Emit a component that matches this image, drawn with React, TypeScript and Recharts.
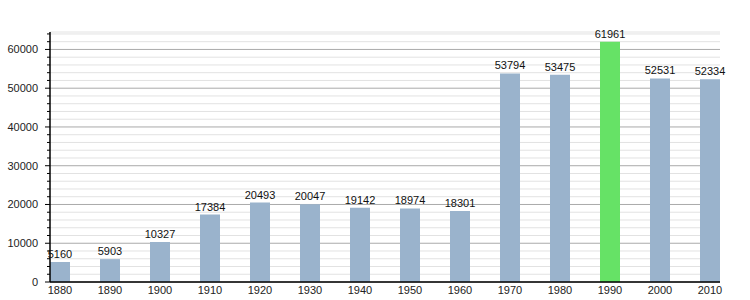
import React from 'react';
import {
  BarChart,
  Bar,
  Cell,
  XAxis,
  YAxis,
  CartesianGrid,
  LabelList,
} from 'recharts';

const years = [1880, 1890, 1900, 1910, 1920, 1930, 1940, 1950, 1960, 1970, 1980, 1990, 2000, 2010];
const population = [5160, 5903, 10327, 17384, 20493, 20047, 19142, 18974, 18301, 53794, 53475, 61961, 52531, 52334];
const highlightYear = 1990;

const allTicks = [
  0, 2000, 4000, 6000, 8000, 10000, 12000, 14000, 16000, 18000, 20000, 22000, 24000, 26000, 28000,
  30000, 32000, 34000, 36000, 38000, 40000, 42000, 44000, 46000, 48000, 50000, 52000, 54000, 56000,
  58000, 60000, 62000, 64000,
];
const majorStep = 10000;

const BAR_COLOR = '#9ab3cc';
const HIGHLIGHT_COLOR = '#66e266';
const FONT = '"Liberation Sans", Arial, sans-serif';

const data = years.map((year, i) => ({ year, value: population[i] }));

const isMajor = (v: number) => v % majorStep === 0;

// draws axis tick marks: long ones with labels for the majors, short ones for the rest
function YTick(props: any) {
  const { x, y, payload } = props;
  const major = isMajor(payload.value);
  return (
    <g>
      <line x1={x - (major ? 5 : 3)} x2={x} y1={y} y2={y} stroke="#000" strokeWidth={1} />
      {major && (
        <text x={x - 12} y={y} dy={4} textAnchor="end" fontSize={11} fill="#222" fontFamily={FONT}>
          {payload.value}
        </text>
      )}
    </g>
  );
}

// horizontal grid line, darker on the major values
function GridLine(props: any) {
  const { x1, x2, y1, y2, index } = props;
  const v = allTicks[index];
  return (
    <line
      x1={x1}
      x2={x2}
      y1={y1}
      y2={y2}
      stroke={v !== undefined && isMajor(v) ? '#aaaaaa' : '#e2e2e2'}
      strokeWidth={1}
    />
  );
}

export default function App() {
  return (
    <div style={{ position: 'absolute', left: 0, top: 0, width: 750, height: 300, background: '#fff' }}>
      <BarChart width={750} height={300} data={data} margin={{ top: 32, right: 30, bottom: 0, left: 0 }}>
        <CartesianGrid vertical={false} horizontal={(p: any) => <GridLine key={p.key} {...p} />} />
        <XAxis
          dataKey="year"
          type="number"
          domain={[1878, 2012]}
          ticks={years}
          interval={0}
          tickLine={false}
          tickSize={2}
          tickMargin={2}
          axisLine={{ stroke: '#000', strokeWidth: 1.5 }}
          tick={{ fontSize: 11, fill: '#222', fontFamily: FONT }}
          height={18}
        />
        <YAxis
          domain={[0, 64500]}
          ticks={allTicks}
          interval={0}
          width={50}
          tickLine={false}
          tickSize={0}
          tickMargin={0}
          axisLine={{ stroke: '#000', strokeWidth: 1.5 }}
          tick={<YTick />}
          allowDataOverflow
        />
        <Bar dataKey="value" barSize={20} isAnimationActive={false}>
          {data.map((d) => (
            <Cell key={d.year} fill={d.year === highlightYear ? HIGHLIGHT_COLOR : BAR_COLOR} />
          ))}
          <LabelList dataKey="value" position="top" offset={4} fontSize={11} fill="#111" fontFamily={FONT} />
        </Bar>
      </BarChart>
    </div>
  );
}
